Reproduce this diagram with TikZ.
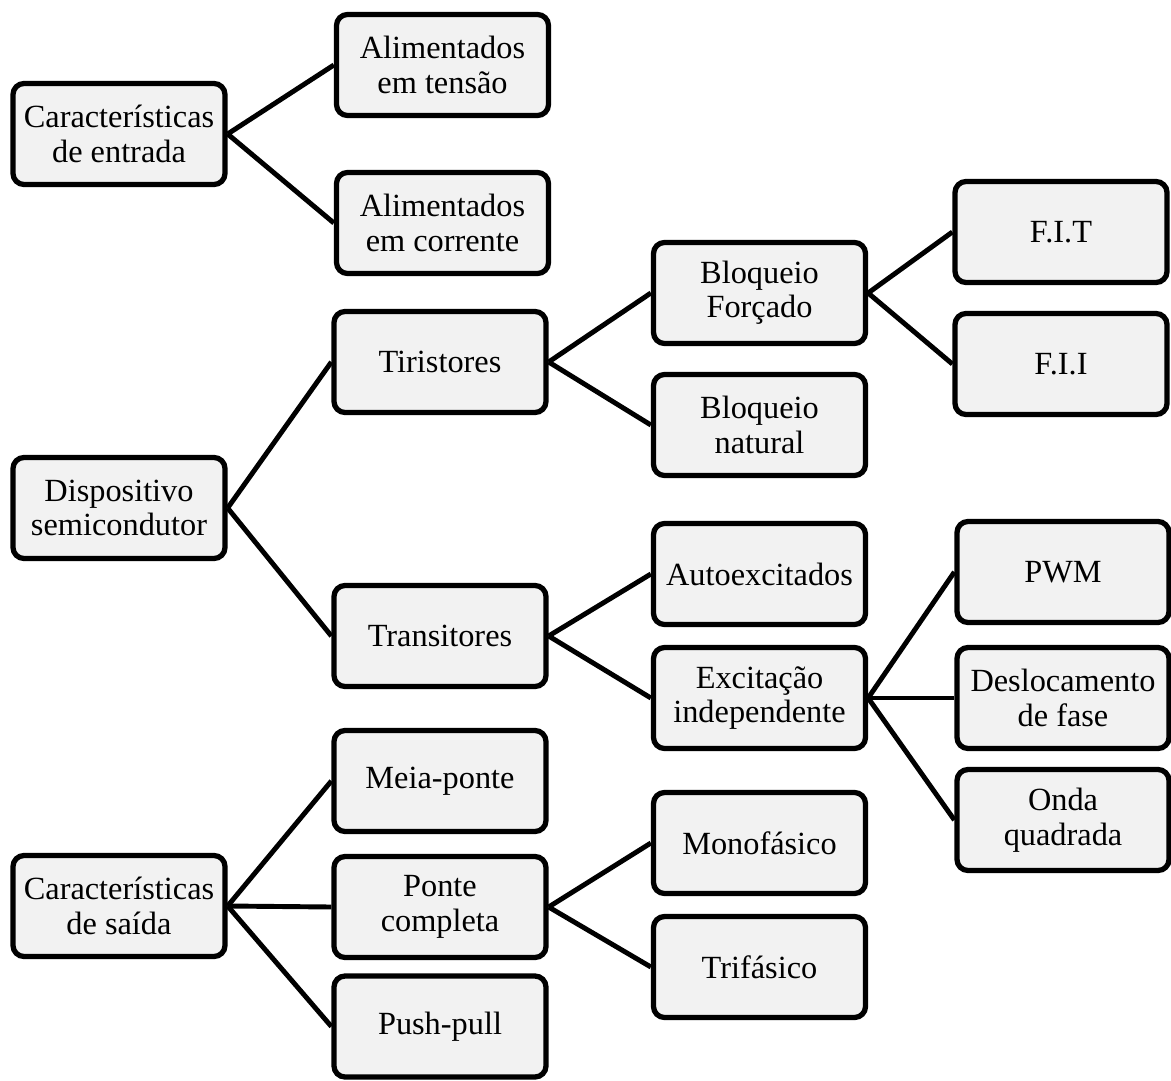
\documentclass[tikz,border=0pt]{standalone}
\usepackage{fontspec}
\setmainfont{Liberation Serif}
\usepackage{tikz}
\usetikzlibrary{positioning}

\definecolor{boxgray}{HTML}{F2F2F2}
\tikzset{
    box/.style={draw=black, fill=boxgray, line width=3pt, rounded corners=0.22cm,
        minimum width=4.24cm, minimum height=2.02cm, align=center,
        font=\fontsize{18.4}{19.6}\selectfont, inner sep=2pt},
    link/.style={line width=2.8pt}
}

\begin{document}
\begin{tikzpicture}
    \useasboundingbox (0,0) rectangle (23.42,-21.6);

        % first column
        \node[box] at (2.38,-2.68) (entrada) {Características\\de entrada};
        \node[box] at (2.38,-10.16) (disp) {Dispositivo\\semicondutor};
        \node[box] at (2.38,-18.12) (saida) {Características\\de saída};

        % second column
        \node[box] at (8.85,-1.3) (tensao) {Alimentados\\em tensão};
        \node[box] at (8.85,-4.46) (corrente) {Alimentados\\em corrente};
        \node[box] at (8.8,-7.24) (tiristores) {Tiristores};
        \node[box] at (8.8,-12.72) (transitores) {Transitores};
        \node[box] at (8.8,-15.62) (meia) {Meia-ponte};
        \node[box] at (8.8,-18.14) (completa) {Ponte\\completa};
        \node[box] at (8.8,-20.53) (push) {Push-pull};

        % third column
        \node[box] at (15.19,-5.86) (forcado) {Bloqueio\\Forçado};
        \node[box] at (15.19,-8.5) (natural) {Bloqueio\\natural};
        \node[box] at (15.19,-11.48) (auto) {Autoexcitados};
        \node[box] at (15.19,-13.96) (indep) {Excitação\\independente};
        \node[box] at (15.19,-16.86) (mono) {Monofásico};
        \node[box] at (15.19,-19.34) (tri) {Trifásico};

        % fourth column
        \node[box] at (21.22,-4.64) (fit) {F.I.T};
        \node[box] at (21.22,-7.28) (fii) {F.I.I};
        \node[box] at (21.26,-11.44) (pwm) {PWM};
        \node[box] at (21.26,-13.96) (desloc) {Deslocamento\\de fase};
        \node[box] at (21.26,-16.4) (onda) {Onda\\quadrada};

        \draw[link] (entrada.east) -- (tensao.west);
        \draw[link] (entrada.east) -- (corrente.west);
        \draw[link] (disp.east) -- (tiristores.west);
        \draw[link] (disp.east) -- (transitores.west);
        \draw[link] (saida.east) -- (meia.west);
        \draw[link] (saida.east) -- (completa.west);
        \draw[link] (saida.east) -- (push.west);
        \draw[link] (tiristores.east) -- (forcado.west);
        \draw[link] (tiristores.east) -- (natural.west);
        \draw[link] (transitores.east) -- (auto.west);
        \draw[link] (transitores.east) -- (indep.west);
        \draw[link] (completa.east) -- (mono.west);
        \draw[link] (completa.east) -- (tri.west);
        \draw[link] (forcado.east) -- (fit.west);
        \draw[link] (forcado.east) -- (fii.west);
        \draw[link] (indep.east) -- (pwm.west);
        \draw[link] (indep.east) -- (desloc.west);
        \draw[link] (indep.east) -- (onda.west);
    \end{tikzpicture}
\end{document}
